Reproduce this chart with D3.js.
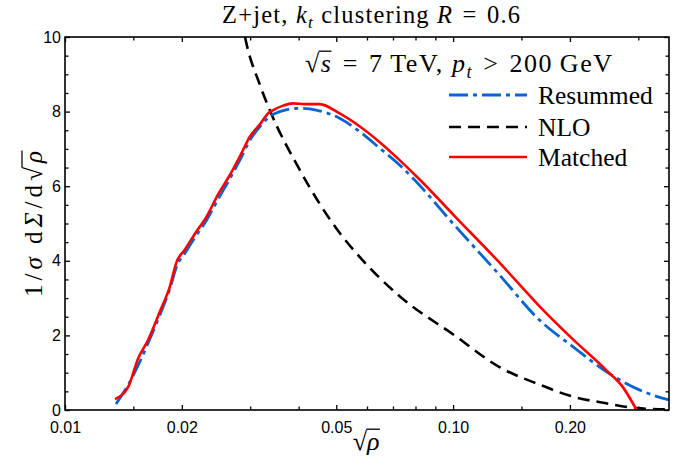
<!DOCTYPE html>
<html><head><meta charset="utf-8">
<script src="https://cdn.jsdelivr.net/npm/d3@7"></script>
<style>
  body { margin: 0; background: #fff; }
  svg { display: block; }
</style>
</head><body>
<svg id="chart" width="689" height="459"></svg>
<script>
// Jet-mass distribution for Z+jet, kt clustering with R = 0.6

const xResummed = [0.01353, 0.0147, 0.01544, 0.01638, 0.01756, 0.01863, 0.01939, 0.02036, 0.0216, 0.0232, 0.0248, 0.0266, 0.0287, 0.0299, 0.0318, 0.0344, 0.0403, 0.0444, 0.0510, 0.0575, 0.0647, 0.0728, 0.0787, 0.1009, 0.1317, 0.167, 0.2034, 0.248, 0.302, 0.354, 0.36];
const yResummed = [0.16, 0.76, 1.2, 1.8, 2.55, 3.25, 3.85, 4.2, 4.62, 5.1, 5.65, 6.2, 6.85, 7.22, 7.6, 7.93, 8.09, 8.04, 7.82, 7.46, 7.02, 6.57, 6.22, 4.95, 3.62, 2.41, 1.70, 1.03, 0.54, 0.29, 0.27];

const xNLO = [0.0285, 0.0291, 0.0318, 0.0337, 0.0403, 0.0510, 0.0575, 0.0728, 0.1009, 0.1317, 0.167, 0.2034, 0.248, 0.296, 0.354, 0.36];
const yNLO = [10.5, 10.0, 8.71, 8.04, 6.43, 4.75, 4.1, 3.05, 2.0, 1.15, 0.68, 0.36, 0.18, 0.05, 0.02, 0.02];

const xMatched = [0.01345, 0.01455, 0.01544, 0.01638, 0.01756, 0.01863, 0.01939, 0.02036, 0.0216, 0.0232, 0.0248, 0.0266, 0.0287, 0.0299, 0.0318, 0.0335, 0.0344, 0.0365, 0.0387, 0.0415, 0.0453, 0.0510, 0.0575, 0.0647, 0.0728, 0.0820, 0.1009, 0.1317, 0.167, 0.2034, 0.248, 0.2735, 0.297];
const yMatched = [0.29, 0.62, 1.39, 1.88, 2.64, 3.31, 3.97, 4.3, 4.72, 5.2, 5.78, 6.3, 6.95, 7.32, 7.66, 7.97, 8.04, 8.16, 8.22, 8.2, 8.2, 7.95, 7.6, 7.18, 6.7, 6.18, 5.2, 3.95, 2.78, 1.9, 1.07, 0.62, 0.0];

const seriesNames = ["Resummed", "NLO", "Matched"];

const xMajorTicks = [0.01, 0.02, 0.05, 0.1, 0.2];
const xMajorLabels = ["0.01", "0.02", "0.05", "0.10", "0.20"];
const xMinorTicks = [0.015, 0.03, 0.04, 0.06, 0.07, 0.08, 0.09, 0.15, 0.3];
const yMajorTicks = [0, 2, 4, 6, 8, 10];
const yMinorTicks = [0.5, 1, 1.5, 2.5, 3, 3.5, 4.5, 5, 5.5, 6.5, 7, 7.5, 8.5, 9, 9.5];

const plot = { left: 65, right: 669, top: 37, bottom: 410 };
const serif = "'Liberation Serif', 'DejaVu Serif', serif";
const sans = "'Liberation Sans', Arial, sans-serif";
const THICK = "\u2004", THIN = "\u2009";

const svg = d3.select("#chart");

const x = d3.scaleLog().domain([0.01, 0.36]).range([plot.left, plot.right]);
const y = d3.scaleLinear().domain([0, 10]).range([plot.bottom, plot.top]);

svg.append("defs").append("clipPath").attr("id", "plotClip")
  .append("rect")
  .attr("x", plot.left).attr("y", plot.top)
  .attr("width", plot.right - plot.left).attr("height", plot.bottom - plot.top);

// curves
const styles = {
  Resummed: { color: "#0a64d0", width: 2.8, dash: "19,5,4,5" },
  NLO:      { color: "#000000", width: 2.6, dash: "12,7" },
  Matched:  { color: "#ff0000", width: 2.6, dash: null }
};

const seriesData = {
  Resummed: xResummed.map((v, i) => [v, yResummed[i]]),
  NLO: xNLO.map((v, i) => [v, yNLO[i]]),
  Matched: xMatched.map((v, i) => [v, yMatched[i]])
};

const line = d3.line().x(d => x(d[0])).y(d => y(d[1])).curve(d3.curveMonotoneX);

const curves = svg.append("g").attr("clip-path", "url(#plotClip)");
["NLO", "Resummed", "Matched"].forEach(name => {
  const s = styles[name];
  curves.append("path")
    .datum(seriesData[name])
    .attr("d", line)
    .attr("fill", "none")
    .attr("stroke", s.color)
    .attr("stroke-width", s.width)
    .attr("stroke-dasharray", s.dash)
    .attr("stroke-linejoin", "round");
});

// axes with inward ticks on all four sides
function styleAxis(g) {
  g.select(".domain").remove();
  g.selectAll(".tick line").attr("stroke", "#000").attr("stroke-width", 1.3);
  g.selectAll("text").attr("fill", "#000").attr("font-family", sans).attr("font-size", 16);
}

svg.append("g").attr("transform", `translate(0,${plot.bottom})`)
  .call(d3.axisBottom(x).tickValues(xMajorTicks).tickFormat((d, i) => xMajorLabels[i])
    .tickSize(-5).tickPadding(12))
  .call(styleAxis);
svg.append("g").attr("transform", `translate(0,${plot.bottom})`)
  .call(d3.axisBottom(x).tickValues(xMinorTicks).tickFormat("").tickSize(-3.5))
  .call(styleAxis);
svg.append("g").attr("transform", `translate(0,${plot.top})`)
  .call(d3.axisTop(x).tickValues(xMajorTicks).tickFormat("").tickSize(-5))
  .call(styleAxis);
svg.append("g").attr("transform", `translate(0,${plot.top})`)
  .call(d3.axisTop(x).tickValues(xMinorTicks).tickFormat("").tickSize(-3.5))
  .call(styleAxis);

svg.append("g").attr("transform", `translate(${plot.left},0)`)
  .call(d3.axisLeft(y).tickValues(yMajorTicks).tickFormat(d3.format("d"))
    .tickSize(-5).tickPadding(4))
  .call(styleAxis);
svg.append("g").attr("transform", `translate(${plot.left},0)`)
  .call(d3.axisLeft(y).tickValues(yMinorTicks).tickFormat("").tickSize(-3.5))
  .call(styleAxis);
svg.append("g").attr("transform", `translate(${plot.right},0)`)
  .call(d3.axisRight(y).tickValues(yMajorTicks).tickFormat("").tickSize(-5))
  .call(styleAxis);
svg.append("g").attr("transform", `translate(${plot.right},0)`)
  .call(d3.axisRight(y).tickValues(yMinorTicks).tickFormat("").tickSize(-3.5))
  .call(styleAxis);

svg.append("rect")
  .attr("x", plot.left).attr("y", plot.top)
  .attr("width", plot.right - plot.left).attr("height", plot.bottom - plot.top)
  .attr("fill", "none").attr("stroke", "#000").attr("stroke-width", 1.6);

// math-style text: parts = [text, italic?, subscript?]
function mathText(parent, parts, fs, anchor, len) {
  const t = parent.append("text")
    .attr("font-family", serif).attr("font-size", fs)
    .attr("text-anchor", anchor).attr("fill", "#000");
  if (len) t.attr("textLength", len).attr("lengthAdjust", "spacing");
  let sub = false;
  parts.forEach(p => {
    const ts = t.append("tspan").text(p[0]);
    if (p[1]) ts.attr("font-style", "italic");
    if (p[2]) { ts.attr("font-size", fs * 0.7).attr("dy", fs * 0.22); sub = true; }
    else if (sub) { ts.attr("dy", -fs * 0.22); sub = false; }
  });
  return t;
}

// overbar of a radical: covers the characters after the √ glyph at index rootIdx
function radicalBar(parent, textEl, rootIdx, lastIdx, baseline, fs) {
  const node = textEl.node();
  const r = node.getExtentOfChar(rootIdx);
  const e = node.getExtentOfChar(lastIdx);
  parent.append("line")
    .attr("x1", r.x + r.width - 0.6).attr("x2", e.x + e.width + 0.5)
    .attr("y1", baseline - fs * 0.80).attr("y2", baseline - fs * 0.80)
    .attr("stroke", "#000").attr("stroke-width", fs * 0.05);
}

// title
mathText(svg.append("g").attr("transform", "translate(371,23)"),
  [["Z+jet, ", false], ["k", true], ["t", true, true], [" clustering ", false], ["R", true],
   [THICK + "=" + THICK + "0.6", false]],
  24.5, "middle", 298);

// collision energy and pt cut
const annG = svg.append("g").attr("transform", "translate(305,72)");
const ann = mathText(annG,
  [["√", false], ["s", true], [THICK + "=" + THICK + "7" + THIN + "TeV, ", false], ["p", true], ["t", true, true],
   [THICK + ">" + THICK + "200" + THIN + "GeV", false]],
  26, "start", 307);
radicalBar(annG, ann, 0, 1, 0, 26);

// legend
const legendRows = [95, 127, 157];
seriesNames.forEach((name, i) => {
  const s = styles[name];
  const yy = legendRows[i];
  svg.append("line")
    .attr("x1", 449).attr("x2", 527).attr("y1", yy).attr("y2", yy)
    .attr("stroke", s.color).attr("stroke-width", s.width)
    .attr("stroke-dasharray", s.dash);
  svg.append("text")
    .attr("x", 538).attr("y", yy + 8.5)
    .attr("font-family", serif).attr("font-size", 25.5)
    .attr("fill", "#000").text(name);
});

// axis titles
const xlabG = svg.append("g").attr("transform", "translate(366,450)");
const xlab = mathText(xlabG, [["√", false], ["ρ", true]], 26, "middle");
radicalBar(xlabG, xlab, 0, 1, 0, 26);

const ylabG = svg.append("g").attr("transform", "translate(42,224) rotate(-90)");
const ylab = mathText(ylabG,
  [["1/", false], ["σ", true], [THIN + "d", false], ["Σ", true], ["/d", false], ["√", false], ["ρ", true]],
  25, "middle", 146);
radicalBar(ylabG, ylab, 8, 9, 0, 25);
</script>
</body></html>
